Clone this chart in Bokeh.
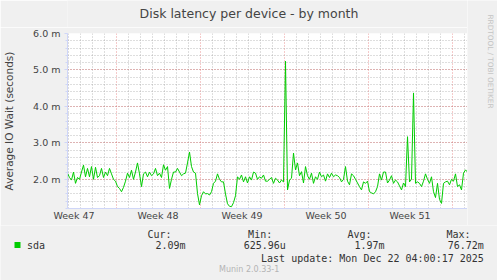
import math
from bokeh.plotting import figure
from bokeh.models import FixedTicker, Label, Range1d
from bokeh.layouts import column, row
from bokeh.embed import file_html
from bokeh.resources import INLINE

# ---- data (average IO wait of sda, in milliseconds, one sample every 4 h) ----
sda_ms = [
    2.17, 2.05, 1.98, 2.2, 1.89, 2.05, 2.0, 2.2, 2.39, 2.07, 2.3, 2.07, 2.35, 2.0, 2.33, 2.05,
    2.1, 2.3, 2.05, 2.2, 2.1, 2.3, 2.15, 2.0, 1.95, 1.8, 1.75, 1.66, 1.78, 1.95, 2.17, 2.05,
    2.25, 2.0, 2.2, 2.45, 2.15, 1.8, 2.15, 2.2, 2.07, 2.2, 2.1, 2.15, 2.3, 2.1, 2.17, 2.05,
    2.4, 2.25,
    2.35, 1.75, 2.0, 2.2, 2.2, 2.3, 2.2, 2.1, 2.15, 2.17, 2.45, 2.75, 2.35, 2.2, 2.17, 1.61,
    1.3, 1.55, 1.66, 1.6, 1.61, 1.57, 1.66, 1.89, 1.95, 2.15, 2.0, 1.93, 1.93, 1.6, 1.33,
    1.26, 1.25, 1.36, 1.55, 2.07, 2.0, 2.12, 1.93, 2.07, 1.9, 2.07, 1.98, 2.2, 2.17, 2.0,
    2.07, 2.03, 2.12, 1.95,
    1.95, 2.0, 2.05, 1.89, 2.03, 1.98, 1.9, 1.98, 1.93, 5.24, 1.71, 1.98, 2.03, 2.72, 2.26,
    2.45, 2.1, 2.21, 1.9, 2.35, 2.1, 2.0, 2.17, 1.89, 2.07, 2.0, 2.2, 2.07, 2.12, 1.95, 2.15,
    2.05, 2.17, 2.07, 2.12, 2.1, 2.05, 1.93, 2.0, 2.35, 1.95, 1.85, 2.15, 2.1, 2.0, 1.9, 1.8,
    1.71, 1.93, 1.89,
    1.95, 1.66, 1.63, 1.6, 1.66, 1.8, 2.15, 1.98, 2.2, 2.2, 1.9, 1.98, 2.1, 1.89, 1.98, 1.93,
    1.82, 1.71, 1.9, 1.8, 3.17, 1.93, 2.0, 4.37, 1.89, 1.93, 1.89, 1.8, 1.95, 2.15, 2.0, 1.89,
    2.07, 1.66, 1.5, 1.89, 1.45, 1.34, 1.89, 1.93, 1.95, 1.85, 2.0, 1.95, 2.15, 1.8, 1.85,
    1.71, 2.17, 2.26, 2.2,
]
start_hour = 71      # hours after Monday 00:00 of ISO week 47
step_hours = 4
hours = [start_hour + step_hours * i for i in range(len(sda_ms))]

week_labels = ["Week 47", "Week 48", "Week 49", "Week 50", "Week 51"]
week_label_hours = [84, 252, 420, 588, 756]
week_start_hours = [168, 336, 504, 672, 840]
day_hours = [h for h in range(72, 871, 24) if h % 168 != 0]

y_ticks = [2, 3, 4, 5, 6]
y_tick_labels = ["2.0 m", "3.0 m", "4.0 m", "5.0 m", "6.0 m"]
y_minor = [round(1.2 + 0.2 * i, 1) for i in range(25)]

title_text = "Disk latency per device - by month"
y_label_text = "Average IO Wait (seconds)"
side_text = "RRDTOOL / TOBI OETIKER"
series_name = "sda"
series_color = "#00CC00"
legend_headers = ["Cur:", "Min:", "Avg:", "Max:"]
legend_values = ["2.09m", "625.96u", "1.97m", "76.72m"]
last_update = "Last update: Mon Dec 22 04:00:17 2025"
footer = "Munin 2.0.33-1"

# ---- layout constants (pixels) ----
W, H = 497, 280
FRAME_L, FRAME_R, FRAME_T, FRAME_B = 67, 467, 33, 208
TOP_H = 27                      # title strip height
MAIN_BOTTOM = 225
BG = "#F0F0F0"
AXIS_C = "#CFD6F8"
TEXT_C = "#444444"
MONO = "DejaVu Sans Mono"


def pixel_canvas(x0, y0, w, h, left=0):
    f = figure(width=w, height=h, output_backend="svg", toolbar_location=None,
               title=None,
               x_range=Range1d(x0 + left, x0 + w), y_range=Range1d(y0 + h, y0),
               x_axis_type=None, y_axis_type=None,
               min_border=0, min_border_left=left,
               background_fill_color=BG, border_fill_color=BG,
               outline_line_color=None)
    f.grid.visible = False
    return f


def put(f, text, x, y, size, color, font="DejaVu Sans", align="left", angle=0.0):
    f.add_layout(Label(x=x, y=y, text=text, text_font=font, text_font_size=size,
                       text_color=color, text_align=align, text_baseline="middle",
                       angle=angle))


# ---- main chart ----
p = figure(width=FRAME_R, height=MAIN_BOTTOM - TOP_H, output_backend="svg",
           toolbar_location=None, title=None,
           frame_width=FRAME_R - FRAME_L, frame_height=FRAME_B - FRAME_T,
           x_range=Range1d(71, 871), y_range=Range1d(1.2, 6.0),
           min_border_left=FRAME_L, min_border_right=0, min_border_top=FRAME_T - TOP_H,
           min_border_bottom=MAIN_BOTTOM - FRAME_B,
           background_fill_color="#FFFFFF", border_fill_color=BG,
           outline_line_color=None)

xa = p.xaxis[0]
ya = p.yaxis[0]
xa.ticker = FixedTicker(ticks=week_label_hours, minor_ticks=day_hours)
xa.major_label_overrides = {t: s for t, s in zip(week_label_hours, week_labels)}
ya.ticker = FixedTicker(ticks=y_ticks, minor_ticks=y_minor)
ya.major_label_overrides = {t: s for t, s in zip(y_ticks, y_tick_labels)}
for ax in (xa, ya):
    ax.axis_line_color = AXIS_C
    ax.major_tick_line_color = AXIS_C
    ax.minor_tick_line_color = AXIS_C
    ax.major_label_text_font = "DejaVu Sans"
    ax.major_label_text_font_size = "9.5px"
    ax.major_label_text_color = TEXT_C
    ax.minor_tick_in = 0
    ax.major_tick_in = 0
xa.major_tick_out = 0
xa.minor_tick_out = 0
xa.major_label_standoff = 1
ya.major_tick_out = 3
ya.minor_tick_out = 2
ya.major_label_standoff = 4
ya.axis_label = y_label_text
ya.axis_label_text_font = "DejaVu Sans"
ya.axis_label_text_font_size = "10.5px"
ya.axis_label_text_font_style = "normal"
ya.axis_label_text_color = TEXT_C
ya.axis_label_standoff = 15

p.xgrid.ticker = FixedTicker(ticks=week_start_hours, minor_ticks=day_hours)
for g in (p.xgrid[0], p.ygrid[0]):
    g.grid_line_color = "#DE4F4F"
    g.grid_line_alpha = 0.6
    g.grid_line_dash = "1 2"
    g.minor_grid_line_color = "#8F8F8F"
    g.minor_grid_line_alpha = 0.6
    g.minor_grid_line_dash = "1 2"

p.line(hours, sda_ms, line_color=series_color, line_width=1)

# ---- title strip (above the chart; its frame is aligned with the chart frame) ----
top = pixel_canvas(0, 0, FRAME_R, TOP_H, left=FRAME_L)
put(top, title_text, 248.5, 13.0, "12.5px", TEXT_C, align="center")

# ---- right strip ----
right = pixel_canvas(FRAME_R, 0, W - FRAME_R, MAIN_BOTTOM)
put(right, side_text, 489.5, 14, "7.3px", "#C4C4C4", align="left", angle=-math.pi / 2)

# ---- legend strip (below) ----
leg = pixel_canvas(0, MAIN_BOTTOM, W, H - MAIN_BOTTOM)
header_right = [171, 271.7, 371, 470]
value_right = [185, 285.3, 384, 483.3]
for s, xr in zip(legend_headers, header_right):
    put(leg, s, xr, 233.7, "10px", "#333333", font=MONO, align="right")
leg.quad(left=[14], right=[20], top=[241.5], bottom=[247.5],
         fill_color=series_color, line_color=None)
put(leg, series_name, 26.5, 245.3, "10px", "#333333", font=MONO, align="left")
for s, xr in zip(legend_values, value_right):
    put(leg, s, xr, 245.3, "10px", "#333333", font=MONO, align="right")
put(leg, last_update, 483.3, 257.7, "10px", "#333333", font=MONO, align="right")
put(leg, footer, 248.7, 269.3, "8px", "#B4B4B4", align="center")

layout = column(row(column(top, p, spacing=0), right, spacing=0), leg, spacing=0)
open("out.html", "w").write(file_html(layout, INLINE))
